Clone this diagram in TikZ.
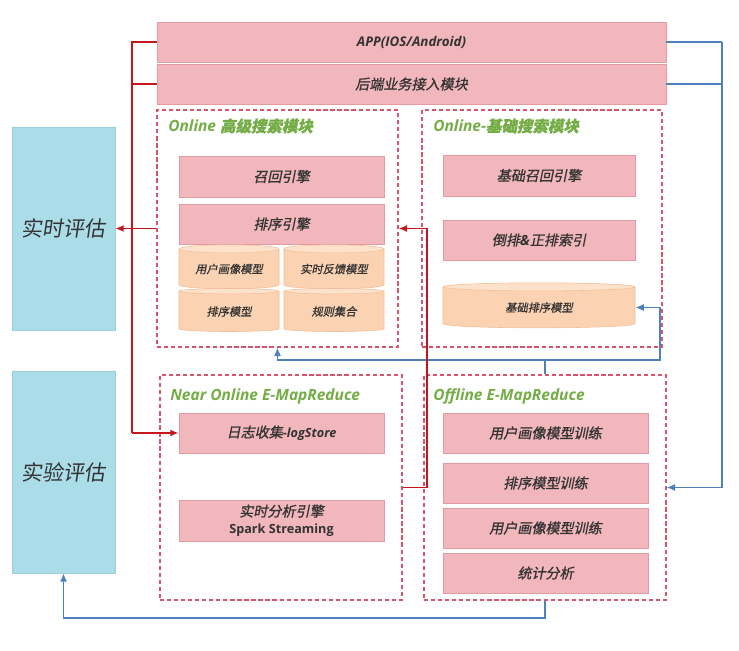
\documentclass[tikz,border=0pt]{standalone}
\usepackage{fontspec}
\setmainfont{Open Sans}
\newfontfamily\cjk[FakeSlant=0.2,FakeBold=1]{Noto Sans CJK SC}
\newfontfamily\cjkeval[FakeSlant=0.15]{Noto Sans CJK SC}
\usetikzlibrary{arrows.meta,positioning,shapes.geometric,shadows}
\definecolor{Pk}{HTML}{F1B7BC}
\definecolor{PkD}{HTML}{E29AA3}
\definecolor{Cy}{HTML}{FCD3B2}
\definecolor{CyE}{HTML}{FDE2CB}
\definecolor{CyD}{HTML}{F2BC95}
\definecolor{Ev}{HTML}{ABDDE9}
\definecolor{EvD}{HTML}{9CCFDB}
\definecolor{Fr}{HTML}{D9536C}
\definecolor{Gr}{HTML}{74AD45}
\definecolor{Rd}{HTML}{C4161C}
\definecolor{Bl}{HTML}{4F81BD}
\definecolor{Tx}{HTML}{333333}
\newcommand{\lat}[1]{{\rmfamily\bfseries\itshape #1}}
\tikzset{
  sz/.style 2 args={minimum width=#1*0.025cm, minimum height=#2*0.025cm},
  pbox/.style={rectangle, fill=Pk, draw=PkD, line width=0.4pt, inner sep=0pt, text=Tx,
    font=\cjk\fontsize{10}{12}\selectfont,
    drop shadow={opacity=0.25, shadow xshift=0.8pt, shadow yshift=-0.8pt}},
  cyl/.style={cylinder, shape border rotate=90, aspect=0.12, draw=CyD, line width=0.4pt,
    cylinder uses custom fill, cylinder body fill=Cy, cylinder end fill=CyE,
    inner sep=0pt, text=Tx, font=\cjk\fontsize{8}{10}\selectfont},
  evalbox/.style={rectangle, fill=Ev, draw=EvD, line width=0.4pt, inner sep=0pt, text=Tx,
    font=\cjkeval\fontsize{15}{18}\selectfont,
    drop shadow={opacity=0.2, shadow xshift=0.8pt, shadow yshift=-0.8pt}},
  frm/.style={rectangle, draw=Fr, line width=0.8pt, dash pattern=on 3pt off 2pt},
  ttl/.style={anchor=west, inner sep=0pt, text=Gr, font=\rmfamily\bfseries\itshape\fontsize{11}{13}\selectfont},
  rl/.style={draw=Rd, line width=1.3pt},
  bl/.style={draw=Bl, line width=1pt},
  arr/.style={-{Latex[length=6pt,width=5pt]}},
}

\begin{document}
\begin{tikzpicture}[x=0.025cm, y=-0.025cm]
  \path[use as bounding box, fill=white] (0,0) rectangle (739,651);
  \node[frm, sz={241}{237}] (adv) at (277.5,228.5) {};
  \node[frm, sz={240}{237}] (basic) at (542,228.5) {};
  \node[frm, sz={242}{225}] (near) at (281,487.5) {};
  \node[frm, sz={242}{225}] (offl) at (545,487.5) {};
  \node[pbox, sz={509}{40}] (app) at (411.5,42) {\lat{\fontsize{9.5}{11}\selectfont APP(IOS/Android)}};
  \node[pbox, sz={509}{40}] (backend) at (411.5,84) {后端业务接入模块};
  \node[evalbox, sz={103}{203}] (rteval) at (63.5,228.5) {实时评估};
  \node[evalbox, sz={103}{202}] (abeval) at (63.5,472) {实验评估};
  \node[ttl] (tadv) at (168,126) {Online {\cjk 高级搜索模块}};
  \node[ttl] (tbasic) at (433,126) {Online-{\cjk 基础搜索模块}};
  \node[ttl] (tnear) at (170,396) {Near Online E-MapReduce};
  \node[ttl] (toffl) at (433,396) {Offline E-MapReduce};
  \node[pbox, sz={205}{41}] (recall) at (281.5,176.5) {召回引擎};
  \node[pbox, sz={205}{40}] (rank) at (281.5,224) {排序引擎};
  \node[cyl, sz={100}{44}] (upm) at (229,269) {用户画像模型};
  \node[cyl, sz={100}{44}] (rtfb) at (334,269) {实时反馈模型};
  \node[cyl, sz={100}{43}] (rankm) at (229,311.5) {排序模型};
  \node[cyl, sz={100}{43}] (rules) at (334,311.5) {规则集合};
  \node[pbox, sz={192}{41}] (brecall) at (539,175.5) {基础召回引擎};
  \node[pbox, sz={192}{40}] (index) at (539,240) {倒排\lat{\&}正排索引};
  \node[cyl, sz={192}{45}] (brank) at (539,307.5) {基础排序模型};
  \node[pbox, sz={205}{40}] (log) at (281.5,433) {日志收集\lat{\fontsize{9}{11}\selectfont -logStore}};
  \node[pbox, sz={205}{41}, align=center] (spark) at (281.5,520.5) {实时分析引擎\\\rmfamily\bfseries\fontsize{9}{11}\selectfont Spark Streaming};
  \node[pbox, sz={205}{40}] (tr1) at (545.5,433) {用户画像模型训练};
  \node[pbox, sz={205}{40}] (tr2) at (545.5,483) {排序模型训练};
  \node[pbox, sz={205}{40}] (tr3) at (545.5,528) {用户画像模型训练};
  \node[pbox, sz={205}{40}] (stat) at (545.5,573) {统计分析};
  \coordinate (bright) at (722,42);
  \coordinate (bmid) at (545,360);
  \coordinate (bturn) at (660,360);
  \coordinate (bbot) at (545,618);
  \draw[bl] (app.east) -- (bright);
  \draw[bl] (backend.east) -- (backend.east -| bright);
  \draw[bl, arr] (bright) |- (offl.east);
  \draw[bl] (offl.north) -- (bmid);
  \draw[bl, arr] (bmid) -| (adv.south);
  \draw[bl, arr] (bmid) -- (bturn) |- (brank.east);
  \draw[bl, arr] (offl.south) -- (bbot) -| (abeval.south);
  \coordinate (rtop) at (132,42);
  \coordinate (rbot) at (132,433);
  \coordinate (rup) at (427,228.5);
  \draw[rl] (app.west) -- (rtop) -- (rbot);
  \draw[rl] (backend.west) -- (backend.west -| rtop);
  \draw[rl, arr] (rbot) -- (log.west);
  \draw[rl, arr] (adv.west |- rteval.east) -- (rteval.east);
  \draw[rl, arr] (near.east) -| (rup) -- (adv.east |- rup);
\end{tikzpicture}
\end{document}
